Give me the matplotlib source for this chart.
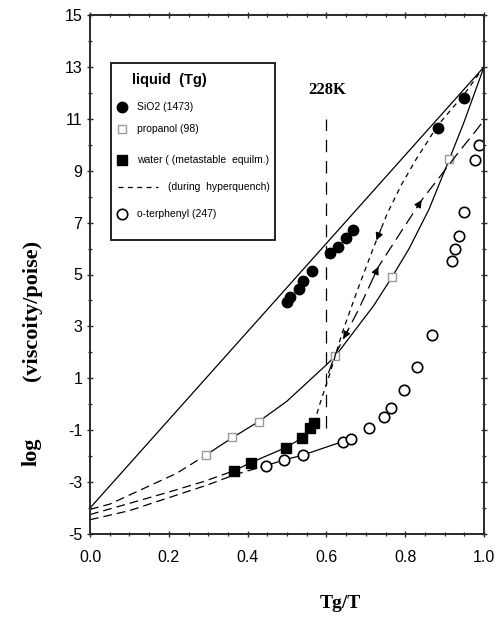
import numpy as np
import matplotlib
matplotlib.use("Agg")
import matplotlib.pyplot as plt
from matplotlib.patches import Rectangle
from matplotlib.ticker import MultipleLocator, FormatStrFormatter

plt.rcParams["axes.unicode_minus"] = False
SANS = ["Liberation Sans Narrow", "Liberation Sans", "DejaVu Sans"]
SERIF = ["Liberation Serif", "DejaVu Serif"]

# ---- data: log(viscosity/poise) versus Tg/T ----
sio2_x = [0.501, 0.508, 0.531, 0.541, 0.564, 0.609, 0.630, 0.651, 0.667, 0.882, 0.949]
sio2_y = [3.95, 4.12, 4.43, 4.76, 5.15, 5.81, 6.07, 6.39, 6.71, 10.63, 11.79]
sio2_line_x = [0.0, 1.0]
sio2_line_y = [-4.0, 13.0]

prop_x = [0.294, 0.360, 0.430, 0.623, 0.766, 0.912]
prop_y = [-1.96, -1.27, -0.67, 1.86, 4.89, 9.44]
prop_fit_x = [0.294, 0.36, 0.43, 0.5, 0.55, 0.6, 0.623, 0.67, 0.72, 0.766, 0.81, 0.86, 0.912, 0.95, 1.0]
prop_fit_y = [-1.96, -1.30, -0.65, 0.12, 0.82, 1.52, 1.86, 2.80, 3.80, 4.89, 6.00, 7.50, 9.44, 10.90, 13.0]
prop_ext_x = [0.0, 0.05, 0.15, 0.22, 0.294]
prop_ext_y = [-4.05, -3.85, -3.15, -2.66, -1.96]

water_x = [0.366, 0.408, 0.497, 0.537, 0.558, 0.569]
water_y = [-2.56, -2.25, -1.67, -1.31, -0.90, -0.71]
water_ext_x = [0.0, 0.1, 0.203, 0.288, 0.366]
water_ext_y = [-4.25, -3.82, -3.37, -2.98, -2.56]
# hyperquench path (short dashes)
quench_x = [0.569, 0.584, 0.609, 0.64, 0.68, 0.72, 0.753, 0.79, 0.83, 0.86, 0.88, 0.95, 1.0]
quench_y = [-0.71, 0.04, 1.19, 2.75, 4.45, 6.05, 7.30, 8.45, 9.50, 10.20, 10.70, 11.95, 13.0]
# reheating path (long dashes)
reheat_x = [0.605, 0.622, 0.681, 0.732, 0.787, 0.842, 0.888, 0.935, 0.981, 1.0]
reheat_y = [1.20, 1.90, 3.63, 5.30, 6.59, 7.87, 8.77, 9.70, 10.57, 10.95]

otp_x = [0.446, 0.492, 0.540, 0.641, 0.662, 0.709, 0.746, 0.764, 0.798, 0.829, 0.867,
         0.918, 0.926, 0.937, 0.949, 0.977, 0.988]
otp_y = [-2.37, -2.15, -1.96, -1.44, -1.34, -0.93, -0.48, -0.16, 0.55, 1.45, 2.67,
         5.53, 5.97, 6.48, 7.42, 9.41, 9.99]
otp_line_n = 5
otp_ext_x = [0.0, 0.1, 0.2, 0.3, 0.37, 0.446]
otp_ext_y = [-4.45, -4.10, -3.60, -3.10, -2.70, -2.37]

t228_x = 0.6
t228_y = [-0.9, 11.0]

# arrow positions (Tg/T) along the two water paths, with direction (+1 up, -1 down)
quench_arrows = [(0.727, -1)]
reheat_arrows = [(0.643, -1), (0.732, +1), (0.842, +1)]

# ---- figure ----
fig = plt.figure(figsize=(4.98, 6.24), dpi=100)
ax = fig.add_axes([90 / 498, 1 - 534 / 624, 394 / 498, 519 / 624])
ax.set_xlim(0, 1.0)
ax.set_ylim(-5, 15)

lw = 0.9
ax.plot(sio2_line_x, sio2_line_y, color="k", lw=lw)
ax.plot(sio2_x, sio2_y, "o", color="k", ms=7.5, mec="k")

ax.plot(prop_fit_x, prop_fit_y, color="k", lw=lw)
ax.plot(prop_ext_x, prop_ext_y, color="k", lw=lw, dashes=(7, 4))
ax.plot(prop_x, prop_y, "s", mfc="white", mec="#9a9a9a", ms=6, mew=1.0)

ax.plot(water_ext_x, water_ext_y, color="k", lw=lw, dashes=(7, 4))
ax.plot(water_x, water_y, color="k", lw=lw)
ax.plot(water_x, water_y, "s", color="k", ms=6.5)
ax.plot(quench_x, quench_y, color="k", lw=lw, dashes=(4, 3.5))
ax.plot(reheat_x, reheat_y, color="k", lw=lw, dashes=(10, 5))

ax.plot(otp_ext_x, otp_ext_y, color="k", lw=lw, dashes=(7, 4))
ax.plot(otp_x[:otp_line_n], otp_y[:otp_line_n], color="k", lw=lw)
ax.plot(otp_x, otp_y, "o", mfc="white", mec="k", ms=7.5, mew=1.2)

ax.plot([t228_x, t228_x], t228_y, color="k", lw=lw, dashes=(10, 7))
ax.text(t228_x + 0.002, 12.1, "228K", family=SERIF, weight="bold", fontsize=12,
        ha="center", va="center")


def add_arrows(cx, cy, spec):
    for xa, d in spec:
        dx = 0.012 * d
        x0, x1 = xa - dx, xa
        y0, y1 = np.interp(x0, cx, cy), np.interp(x1, cx, cy)
        ax.annotate("", xy=(x1, y1), xytext=(x0, y0),
                    arrowprops=dict(arrowstyle="-|>", color="k", lw=0.9,
                                    mutation_scale=11, shrinkA=0, shrinkB=0))


add_arrows(quench_x, quench_y, quench_arrows)
add_arrows(reheat_x, reheat_y, reheat_arrows)

# ---- axes styling ----
for s in ax.spines.values():
    s.set_linewidth(1.4)
    s.set_color("#2a2a2a")
ax.xaxis.set_major_locator(MultipleLocator(0.2))
ax.xaxis.set_minor_locator(MultipleLocator(0.05))
ax.yaxis.set_major_locator(MultipleLocator(2))
ax.yaxis.set_minor_locator(MultipleLocator(1))
ax.xaxis.set_major_formatter(FormatStrFormatter("%.1f"))
ax.yaxis.set_major_formatter(FormatStrFormatter("%d"))
ax.set_yticks(np.arange(-5, 16, 2))
ax.tick_params(which="both", direction="inout", top=True, right=True, color="#2a2a2a")
ax.tick_params(which="major", length=5, width=1.0, labelsize=11.5)
ax.tick_params(which="minor", length=3, width=0.9)
ax.tick_params(axis="x", which="major", pad=9)
ax.tick_params(axis="y", which="major", pad=3)
for lab in ax.get_xticklabels() + ax.get_yticklabels():
    lab.set_family(SANS)

fig.text(340 / 498, 1 - 603 / 624, "Tg/T", family=SERIF, weight="bold", fontsize=14,
         ha="center", va="center")
fig.text(32 / 498, 1 - 452 / 624, "log", family=SERIF, weight="bold", fontsize=16,
         rotation=90, ha="center", va="center")
fig.text(32 / 498, 1 - 310 / 624, "(viscoity/poise)", family=SERIF, weight="bold",
         fontsize=16, rotation=90, ha="center", va="center")

# ---- legend panel ----
T = ax.transAxes
ax.add_patch(Rectangle((0.0525, 0.5665), 0.417, 0.3405, transform=T, fill=False,
                       ec="#222222", lw=1.4, zorder=5))
ax.text(0.1058, 0.8748, "liquid  (Tg)", transform=T, family=["Liberation Sans"],
        weight="bold", fontsize=10.5, va="center", ha="left", zorder=6)
leg_fs = 7.5
rows = [
    (0.8233, dict(marker="o", color="k", ms=7.5, mec="k"), "SiO2 (1473)"),
    (0.7798, dict(marker="s", mfc="white", mec="#9a9a9a", ms=5.5, mew=1.0), "propanol (98)"),
    (0.7206, dict(marker="s", color="k", ms=6.5), "water ( (metastable  equilm.)"),
    (0.6166, dict(marker="o", mfc="white", mec="k", ms=7.5, mew=1.2), "o-terphenyl (247)"),
]
for yy, mk, label in rows:
    ax.plot([0.0805], [yy], transform=T, ls="none", clip_on=False, zorder=6, **mk)
    ax.text(0.1185, yy, label, transform=T, family=SANS, fontsize=leg_fs,
            va="center", ha="left", zorder=6)
ax.plot([0.071, 0.1726], [0.6692, 0.6692], transform=T, color="k", lw=lw,
        dashes=(4, 3.5), zorder=6)
ax.text(0.198, 0.6692, "(during  hyperquench)", transform=T, family=SANS,
        fontsize=leg_fs, va="center", ha="left", zorder=6)

fig.savefig("out.png", dpi=100, facecolor="white")
